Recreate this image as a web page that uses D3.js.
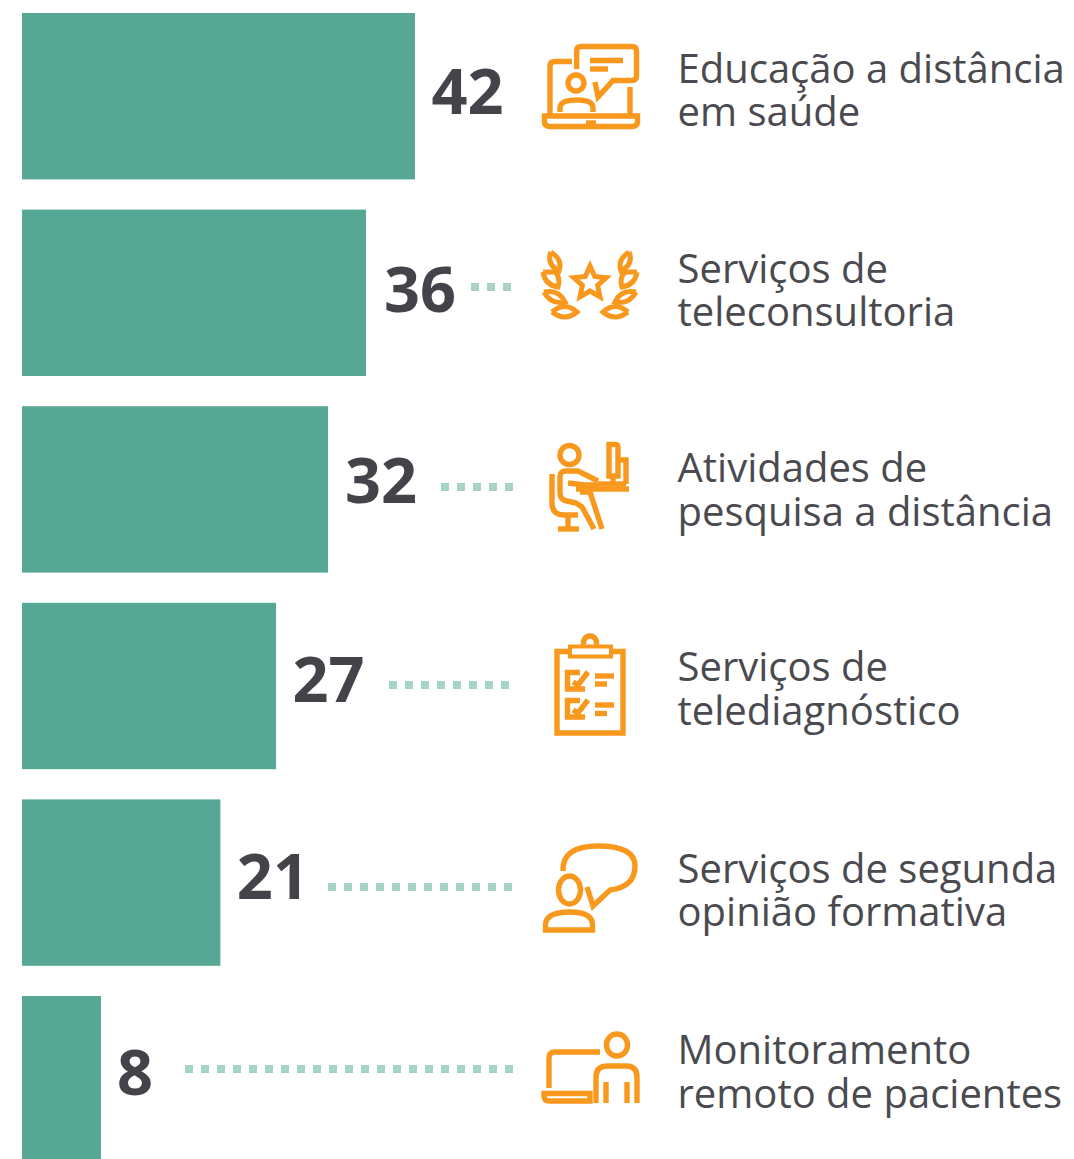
<!DOCTYPE html>
<html><head><meta charset="utf-8">
<script src="https://cdnjs.cloudflare.com/ajax/libs/d3/7.8.5/d3.min.js"></script>
<style>html,body{margin:0;padding:0;background:#fff;overflow:hidden}svg{display:block}</style>
</head><body>
<svg id="c" width="1074" height="1159"></svg>
<script>
const categories = [
  ["Educação a distância","em saúde"],
  ["Serviços de","teleconsultoria"],
  ["Atividades de","pesquisa a distância"],
  ["Serviços de","telediagnóstico"],
  ["Serviços de segunda","opinião formativa"],
  ["Monitoramento","remoto de pacientes"]
];
const valueLabels = [42,36,32,27,21,8];
// bar lengths, in label units
const barValues = [42,36.76,32.7,27.15,21.2,8.44];
const iconNames = ["edu","laurel","desk","clip","talk","mon"];

const svg = d3.select("#c");
const x = d3.scaleLinear().domain([0,42]).range([22,415]);
const y = d3.scaleBand().domain(d3.range(6)).range([13,1162.4]).paddingInner(0.1536).paddingOuter(0);
const ORANGE="#F8981D", TEAL="#57A795", DOT="#A6D3C6", INK="#434349", TXT="#4A4A4F";

svg.selectAll("rect.bar").data(barValues).join("rect").attr("class","bar")
  .attr("x",x(0)).attr("y",(d,i)=>y(i)).attr("width",d=>x(d)-x(0)).attr("height",y.bandwidth()).attr("fill",TEAL);

const labelDy=[-2,-1,-6,-4,-4,-4];
const labelDx=[16.5,18,17,16.5,16.5,16];
svg.selectAll("text.val").data(valueLabels).join("text").attr("class","val")
  .attr("x",(d,i)=>x(barValues[i])+labelDx[i]).attr("y",(d,i)=>y(i)+y.bandwidth()/2+labelDy[i]+20)
  .attr("font-family","'Open Sans'").attr("font-weight",700).attr("font-size",63).attr("fill",INK).text(d=>d);

// dotted leaders
const leaderY=[null,287,487,685,887,1069], leaderX0=[null,471,441,389,328,185];
leaderY.forEach((ly,i)=>{ if(ly===null) return;
  svg.append("line").attr("x1",leaderX0[i]).attr("x2",513).attr("y1",ly).attr("y2",ly)
    .attr("stroke",DOT).attr("stroke-width",8).attr("stroke-dasharray","8 8");
});

// category text
const lineY=[[83,126],[283,326],[482,526],[681,725],[883,926],[1064,1108]];
categories.forEach((c,i)=>{ c.forEach((t,j)=>{
  svg.append("text").attr("x",677.5).attr("y",lineY[i][j]).attr("font-family","'Open Sans'")
    .attr("font-size",40).attr("fill",TXT).text(t);
});});

// icons (decorative pictograms)
const icons={
 edu:{o:[530,30],d:[
  "M42 31.5 H25 Q20 31.5 20 36 V84",
  "M100 57 V84",
  "M14.5 86 H107.5 V92 Q107.5 96.5 102 96.5 H20 Q14.5 96.5 14.5 92 Z",
  "M56 93 H66",
  "M46.7 39 V21 Q46.7 16.5 51 16.5 H102 Q106.5 16.5 106.5 21 V46 Q106.5 50.5 102 50.5 H83 L68 67 L65 52",
  "M60 30.5 H93","M60 39 H78",
  "M46 53 m-8 0 a8 8 0 1 0 16 0 a8 8 0 1 0 -16 0",
  "M30 82 V78 Q30 70 47 70 Q63 70 63 78 V82"],w:5.4},
 laurel:{o:[530,240],d:[
  "M60 26 L64.7 36.5 L76.2 37.7 L67.6 45.5 L70 56.8 L60 51 L50 56.8 L52.4 45.5 L43.8 37.7 L55.3 36.5 Z",
  "M21 12 Q33 20 29 31 Q16 24 21 12","M99 12 Q87 20 91 31 Q104 24 99 12",
  "M13 32 H25 Q31 38 28 47 Q15 45 13 32","M107 32 H95 Q89 38 92 47 Q105 45 107 32",
  "M14 52 Q29 49 35 62 Q21 65 14 52","M106 52 Q91 49 85 62 Q99 65 106 52",
  "M22 72 Q35 61 47 72 Q35 82 22 72","M98 72 Q85 61 73 72 Q85 82 98 72"],w:5},
 desk:{o:[530,435],d:[
  "M39.5 20 m-9.5 0 a9.5 9.5 0 1 0 19 0 a9.5 9.5 0 1 0 -19 0",
  "M68 46 L48 36 H36 Q30 36 30 42 V58 Q30 65 37 66 L46 68 L52 72 L64 94",
  "M38 48 L55 50 H68","M46 54 H99",
  "M50 57 H60 L72 94","M22 39 V68 Q22 80 34 80 H48",
  "M38 80 V94","M28 94 H49",
  "M79 9.5 H86 Q88 9.5 88 13 V41 H79 Z","M90 25 H96 V49","M68 49 H96","M83 42 V49"],w:5.4},
 clip:{o:[530,630],d:[
  "M27 21.5 H93 V103 H27 Z","M54 15 a6.5 6.5 0 1 1 12 0",
  "M50 42.5 H37.5 V59 H55","M43 52 L48 55 L58 42",
  "M50 70.5 H37.5 V87 H55","M43 80 L48 83 L58 70",
  "M65 46 H84","M65 54 H77","M65 75 H84","M65 83.5 H77"],w:5.4,
  extra:"M40 16.5 H81 V26.5 H40 Z"},
 talk:{o:[530,835],d:[
  "M33 36 Q32 11 68 11 Q105 11 105 31 Q105 52 80 55 L63 71 L57 52",
  "M39.5 55 m-11 0 a11 14 0 1 0 22 0 a11 14 0 1 0 -22 0",
  "M15.5 95 V90 Q15.5 77 40 77 Q62.5 77 62.5 90 V95 Z"],w:5.4},
 mon:{o:[530,1025],d:[
  "M19 63 V33 Q19 27 25 27 H70",
  "M14 68.5 H60 V76 H19 Q14 76 14 71 Z",
  "M87 20 m-10.5 0 a10.5 11 0 1 0 21 0 a10.5 11 0 1 0 -21 0",
  "M66 78 V52 Q66 41 78 41 H96 Q107 41 107 52 V78",
  "M76 57 V78","M97 57 V78"],w:5.4}
};
iconNames.forEach(n=>{const ic=icons[n];
  const g=svg.append("g").attr("transform",`translate(${ic.o[0]},${ic.o[1]})`)
    .attr("fill","none").attr("stroke",ORANGE).attr("stroke-width",ic.w).attr("stroke-linejoin","miter");
  ic.d.forEach(p=>g.append("path").attr("d",p));
  if(ic.extra) g.append("path").attr("d",ic.extra).attr("stroke-width",4).attr("fill","#fff");
});
</script>
</body></html>
